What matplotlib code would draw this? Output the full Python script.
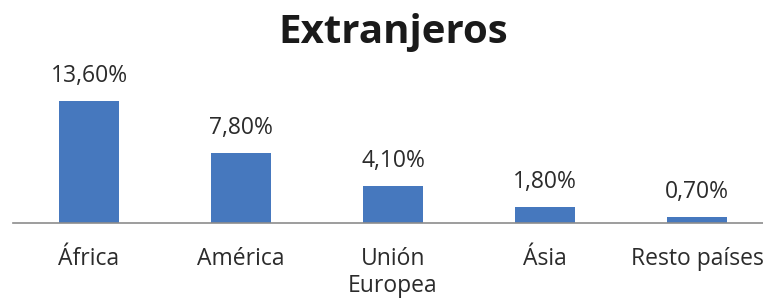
import matplotlib
matplotlib.use("Agg")
import matplotlib.pyplot as plt

categories = ["África", "América", "Unión\nEuropea", "Ásia", "Resto países"]
values = [13.6, 7.8, 4.1, 1.8, 0.7]
value_labels = ["13,60%", "7,80%", "4,10%", "1,80%", "0,70%"]
title = "Extranjeros"

plt.rcParams['font.family'] = ['Open Sans', 'DejaVu Sans']

W, H = 763, 300
fig = plt.figure(figsize=(W / 100, H / 100), dpi=100)
left_px, right_px = 13, 773
base_px = 223
ymax = 15.0
px_per_unit = 8.97
ax = fig.add_axes([left_px / W, (H - base_px) / H, (right_px - left_px) / W,
                   ymax * px_per_unit / H])
ax.set_xlim(-0.5, len(categories) - 0.5)
ax.set_ylim(0, ymax)

x = list(range(len(categories)))
ax.bar(x, values, width=0.4, color="#4678BE")

for xi, v, lab in zip(x, values, value_labels):
    ax.annotate(lab, (xi, v), xytext=(0, 13.5), textcoords="offset points",
                ha="center", va="baseline", fontsize=16.5, color="#2b2b2b")

ax.set_xticks(x)
ax.set_xticklabels(categories, fontsize=16.5, color="#2b2b2b", linespacing=1.2)
ax.tick_params(axis="x", length=0, pad=17)
ax.set_yticks([])
for s in ["top", "left", "right"]:
    ax.spines[s].set_visible(False)
ax.spines["bottom"].set_color("#8c8c8c")
ax.spines["bottom"].set_linewidth(1.2)

fig.text(393.5 / W, 1 - 43 / H, title, ha="center", va="baseline",
         fontsize=29, fontweight="bold", color="#1a1a1a")

fig.savefig("out.png", dpi=100)
